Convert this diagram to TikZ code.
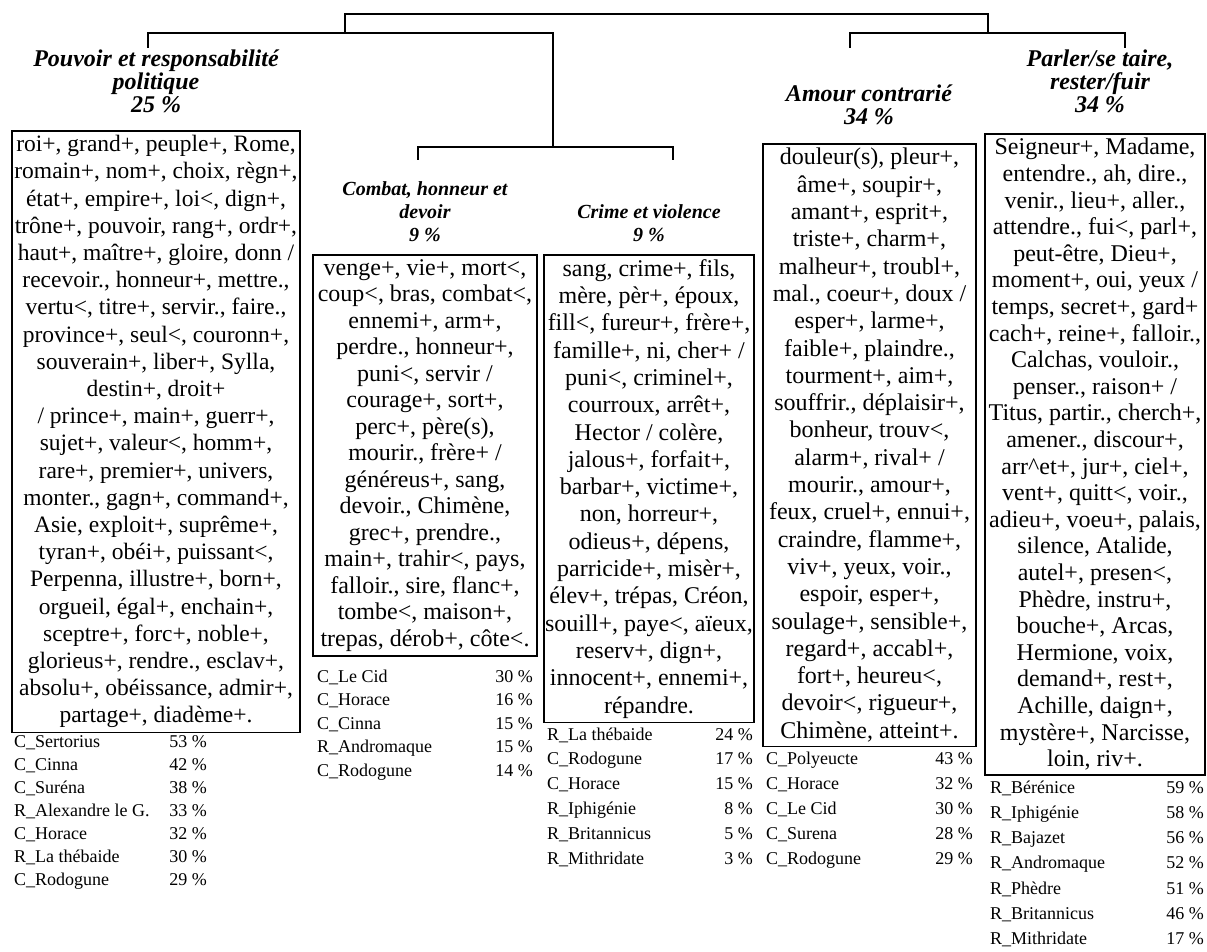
\documentclass[tikz,border=0pt]{standalone}
\usepackage{fontspec}
\setmainfont{Liberation Serif}
\usetikzlibrary{positioning,calc}

\begin{document}
\begin{tikzpicture}[x=1pt,y=-1pt,
  bracket/.style={line width=2.4pt},
  wordbox/.style={draw, line width=1.6pt, anchor=north, align=center, inner xsep=1pt, inner ysep=4.5pt, font=\fontsize{24}{27.3}\selectfont},
  ttl/.style={anchor=north, align=center, inner sep=2pt, font=\fontsize{24}{23}\selectfont\bfseries\itshape},
  sttl/.style={ttl, font=\fontsize{20}{23}\selectfont\bfseries\itshape},
  lst/.style={inner sep=0pt, font=\fontsize{18}{20}\selectfont}
]
\useasboundingbox (0,0) rectangle (1207,952);

% junctions of the tree
\coordinate (top) at (665,14);
\coordinate (kL) at (345,33);
\coordinate (kR) at (988,33);
\coordinate (jM) at (553,147);

% class titles
\node[ttl] (t1) at (156,48) {Pouvoir et responsabilité\\politique\\25 \%};
\node[sttl] (t2) at (425,179) {Combat, honneur et\\devoir\\9 \%};
\node[sttl] (t3) at (649,202) {Crime et violence\\9 \%};
\node[ttl] (t4) at (869,83) {Amour contrarié\\34 \%};
\node[ttl] (t5) at (1100,48) {Parler/se taire,\\rester/fuir\\34 \%};

% word lists
\node[wordbox, minimum width=288pt, font=\fontsize{23.5}{27.2}\selectfont] (b1) at (156,130) {roi+, grand+, peuple+, Rome,\\
romain+, nom+, choix, règn+,\\
état+, empire+, loi<, dign+,\\
trône+, pouvoir, rang+, ordr+,\\
haut+, maître+, gloire, donn /\\
recevoir., honneur+, mettre.,\\
vertu<, titre+, servir., faire.,\\
province+, seul<, couronn+,\\
souverain+, liber+, Sylla,\\
destin+, droit+\\
/ prince+, main+, guerr+,\\
sujet+, valeur<, homm+,\\
rare+, premier+, univers,\\
monter., gagn+, command+,\\
Asie, exploit+, suprême+,\\
tyran+, obéi+, puissant<,\\
Perpenna, illustre+, born+,\\
orgueil, égal+, enchain+,\\
sceptre+, forc+, noble+,\\
glorieus+, rendre., esclav+,\\
absolu+, obéissance, admir+,\\
partage+, diadème+.};

\node[wordbox, minimum width=224pt, font=\fontsize{24}{26.5}\selectfont] (b2) at (425,254) {venge+, vie+, mort<,\\
coup<, bras, combat<,\\
ennemi+, arm+,\\
perdre., honneur+,\\
puni<, servir /\\
courage+, sort+,\\
perc+, père(s),\\
mourir., frère+ /\\
généreus+, sang,\\
devoir., Chimène,\\
grec+, prendre.,\\
main+, trahir<, pays,\\
falloir., sire, flanc+,\\
tombe<, maison+,\\
trepas, dérob+, côte<.};

\node[wordbox, minimum width=210pt] (b3) at (649,254) {sang, crime+, fils,\\
mère, pèr+, époux,\\
fill<, fureur+, frère+,\\
famille+, ni, cher+ /\\
puni<, criminel+,\\
courroux, arrêt+,\\
Hector / colère,\\
jalous+, forfait+,\\
barbar+, victime+,\\
non, horreur+,\\
odieus+, dépens,\\
parricide+, misèr+,\\
élev+, trépas, Créon,\\
souill+, paye<, aïeux,\\
reserv+, dign+,\\
innocent+, ennemi+,\\
répandre.};

\node[wordbox, minimum width=213pt] (b4) at (869.5,143) {douleur(s), pleur+,\\
âme+, soupir+,\\
amant+, esprit+,\\
triste+, charm+,\\
malheur+, troubl+,\\
mal., coeur+, doux /\\
esper+, larme+,\\
faible+, plaindre.,\\
tourment+, aim+,\\
souffrir., déplaisir+,\\
bonheur, trouv<,\\
alarm+, rival+ /\\
mourir., amour+,\\
feux, cruel+, ennui+,\\
craindre, flamme+,\\
viv+, yeux, voir.,\\
espoir, esper+,\\
soulage+, sensible+,\\
regard+, accabl+,\\
fort+, heureu<,\\
devoir<, rigueur+,\\
Chimène, atteint+.};

\node[wordbox, minimum width=220pt, font=\fontsize{24}{26.6}\selectfont] (b5) at (1095,133) {Seigneur+, Madame,\\
entendre., ah, dire.,\\
venir., lieu+, aller.,\\
attendre., fui<, parl+,\\
peut-être, Dieu+,\\
moment+, oui, yeux /\\
temps, secret+, gard+\\
cach+, reine+, falloir.,\\
Calchas, vouloir.,\\
penser., raison+ /\\
Titus, partir., cherch+,\\
amener., discour+,\\
arr\textasciicircum et+, jur+, ciel+,\\
vent+, quitt<, voir.,\\
adieu+, voeu+, palais,\\
silence, Atalide,\\
autel+, presen<,\\
Phèdre, instru+,\\
bouche+, Arcas,\\
Hermione, voix,\\
demand+, rest+,\\
Achille, daign+,\\
mystère+, Narcisse,\\
loin, riv+.};

% tree
\draw[bracket] (kL) |- (top) -| (kR);
\draw[bracket] ([xshift=-8pt]t1.north) |- (jM |- kL) -- (jM);
\draw[bracket, shorten <=19pt, shorten >=42pt] ([xshift=-7pt]t2.north) |- (jM) -| ([xshift=24pt]t3.north);
\draw[bracket, shorten <=35pt] ([xshift=-19pt]t4.north) |- (kR) -| ([xshift=25pt]t5.north);

% plays under each class
\foreach \nm/\pc [count=\k from 0] in {C\_Sertorius/53, C\_Cinna/42, C\_Suréna/38, R\_Alexandre le G./33, C\_Horace/32, R\_La thébaide/30, C\_Rodogune/29}{
  \node[lst, anchor=base west] (n1\k) at (14,747+23*\k) {\nm};
  \node[lst, anchor=base east] (p1\k) at (207,747+23*\k) {\pc~\%};
}
\foreach \nm/\pc [count=\k from 0] in {C\_Le Cid/30, C\_Horace/16, C\_Cinna/15, R\_Andromaque/15, C\_Rodogune/14}{
  \node[lst, anchor=base west] (n2\k) at (317,682+23.5*\k) {\nm};
  \node[lst, anchor=base east] (p2\k) at (533,682+23.5*\k) {\pc~\%};
}
\foreach \nm/\pc [count=\k from 0] in {R\_La thébaide/24, C\_Rodogune/17, C\_Horace/15, R\_Iphigénie/8, R\_Britannicus/5, R\_Mithridate/3}{
  \node[lst, anchor=base west] (n3\k) at (547,740+24.8*\k) {\nm};
  \node[lst, anchor=base east] (p3\k) at (753,740+24.8*\k) {\pc~\%};
}
\foreach \nm/\pc [count=\k from 0] in {C\_Polyeucte/43, C\_Horace/32, C\_Le Cid/30, C\_Surena/28, C\_Rodogune/29}{
  \node[lst, anchor=base west] (n4\k) at (766,764+25*\k) {\nm};
  \node[lst, anchor=base east] (p4\k) at (973,764+25*\k) {\pc~\%};
}
\foreach \nm/\pc [count=\k from 0] in {R\_Bérénice/59, R\_Iphigénie/58, R\_Bajazet/56, R\_Andromaque/52, R\_Phèdre/51, R\_Britannicus/46, R\_Mithridate/17}{
  \node[lst, anchor=base west] (n5\k) at (990,793+25.3*\k) {\nm};
  \node[lst, anchor=base east] (p5\k) at (1204,793+25.3*\k) {\pc~\%};
}
\end{tikzpicture}
\end{document}
